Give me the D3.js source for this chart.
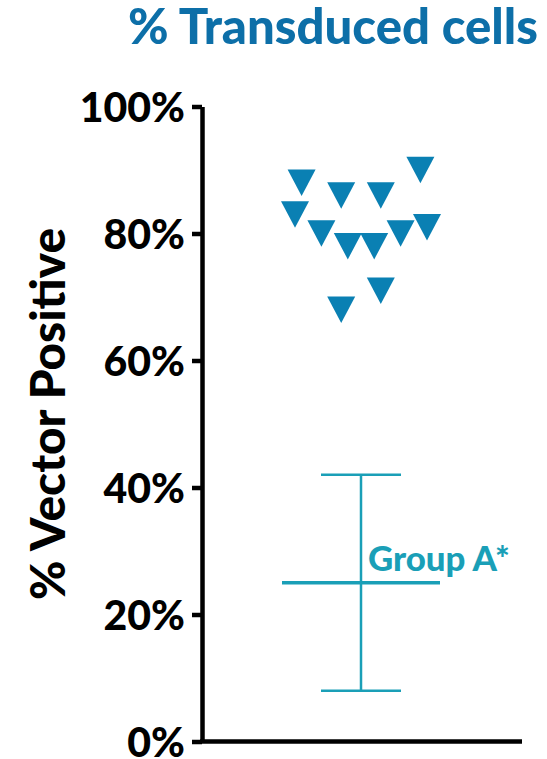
<!DOCTYPE html>
<html>
<head>
<meta charset="utf-8">
<script src="https://cdn.jsdelivr.net/npm/d3@7"></script>
<style>
  html, body { margin: 0; padding: 0; background: #ffffff; }
  svg { display: block; }
  text { font-family: Lato, "Open Sans", sans-serif; font-weight: 900; }
</style>
</head>
<body>
<svg id="chart" width="547" height="759"></svg>
<script>
// ---- data ----
const title = "% Transduced cells";
const yAxisTitle = "% Vector Positive";
const yTicks = [0, 20, 40, 60, 80, 100];
const yTickLabels = ["0%", "20%", "40%", "60%", "80%", "100%"];
const column = ["Transduced"];

// individual samples (% vector positive)
const sampleValues = [88, 86, 86, 90, 83, 80, 78, 78, 80, 81, 71, 68];
// beeswarm slot of each sample within the column (half-marker units)
const sampleSlot = [-4.5, -1.5, 1.5, 4.5, -5, -3, -1, 1, 3, 5, 1.5, -1.5];

// comparison group: mean with lower / upper bar
const groupLabel = "Group A*";
const groupMean = [25];
const groupLow = [8];
const groupHigh = [42];

// ---- layout ----
const svg = d3.select("#chart");
const plot = { left: 202, right: 522, top: 106.5, bottom: 741.5 };

const y = d3.scaleLinear().domain([0, 100]).range([plot.bottom, plot.top]);
const x = d3.scalePoint().domain(column).range([plot.left, plot.right - 2]);
const slot = d3.scaleLinear().domain([0, 1]).range([0, 13.2]);

const blueTitle = "#0d6fa8";
const markerBlue = "#0a80b3";
const teal = "#1a9fb7";

// fit a text element to a given width by adjusting its font size
function fitWidth(sel, target) {
  const w = sel.node().getComputedTextLength();
  const fs = parseFloat(sel.attr("font-size"));
  sel.attr("font-size", fs * target / w);
}

// title
const titleText = svg.append("text")
  .attr("x", 128).attr("y", 44)
  .attr("font-size", 46)
  .attr("font-weight", 700)
  .attr("fill", blueTitle)
  .text(title);
fitWidth(titleText, 410);

// y axis title
const yTitle = svg.append("text")
  .attr("transform", "translate(65,414) rotate(-90)")
  .attr("text-anchor", "middle")
  .attr("font-size", 40)
  .attr("fill", "#000")
  .text(yAxisTitle);
fitWidth(yTitle, 372);

// y axis
const yAxis = d3.axisLeft(y)
  .tickValues(yTicks)
  .tickFormat((d, i) => yTickLabels[i])
  .tickSize(10)
  .tickSizeOuter(0)
  .tickPadding(7);

const gy = svg.append("g")
  .attr("transform", `translate(${plot.left},0)`)
  .call(yAxis);
gy.select(".domain").attr("stroke", "#000").attr("stroke-width", 4.5);
gy.selectAll(".tick line").attr("stroke", "#000").attr("stroke-width", 4.5);
gy.selectAll(".tick text")
  .attr("font-family", "Lato, 'Open Sans', sans-serif")
  .attr("font-weight", 900)
  .attr("font-size", 41)
  .attr("fill", "#000")
  .attr("dy", "0.36em");

// x axis baseline
svg.append("line")
  .attr("x1", plot.left - 2).attr("x2", plot.right)
  .attr("y1", y(0)).attr("y2", y(0))
  .attr("stroke", "#000").attr("stroke-width", 4.5);

// group mean and range bar
const cx = x(column[0]);
const eb = svg.append("g").attr("stroke", teal).attr("fill", "none");
eb.append("line")
  .attr("x1", cx).attr("x2", cx)
  .attr("y1", y(groupHigh[0])).attr("y2", y(groupLow[0]))
  .attr("stroke-width", 2.5);
[groupHigh[0], groupLow[0]].forEach(v => {
  eb.append("line")
    .attr("x1", cx - 40).attr("x2", cx + 40)
    .attr("y1", y(v)).attr("y2", y(v))
    .attr("stroke-width", 2.5);
});
eb.append("line")
  .attr("x1", cx - 79).attr("x2", cx + 79)
  .attr("y1", y(groupMean[0])).attr("y2", y(groupMean[0]))
  .attr("stroke-width", 3.5);

const gLabel = svg.append("text")
  .attr("x", cx + 7).attr("y", y(groupMean[0]) - 11.5)
  .attr("font-size", 33)
  .attr("font-weight", 700)
  .attr("fill", teal)
  .text(groupLabel);
fitWidth(gLabel, 142);

// sample markers: downward triangles
const tw = 28, th = 26.5;
function downTriangle(px, py) {
  const p = d3.path();
  p.moveTo(px - tw / 2, py - th / 2);
  p.lineTo(px + tw / 2, py - th / 2);
  p.lineTo(px, py + th / 2);
  p.closePath();
  return p.toString();
}
svg.append("g")
  .selectAll("path")
  .data(sampleValues)
  .join("path")
  .attr("d", (v, i) => downTriangle(cx + slot(sampleSlot[i]), y(v)))
  .attr("fill", markerBlue);
</script>
</body>
</html>
